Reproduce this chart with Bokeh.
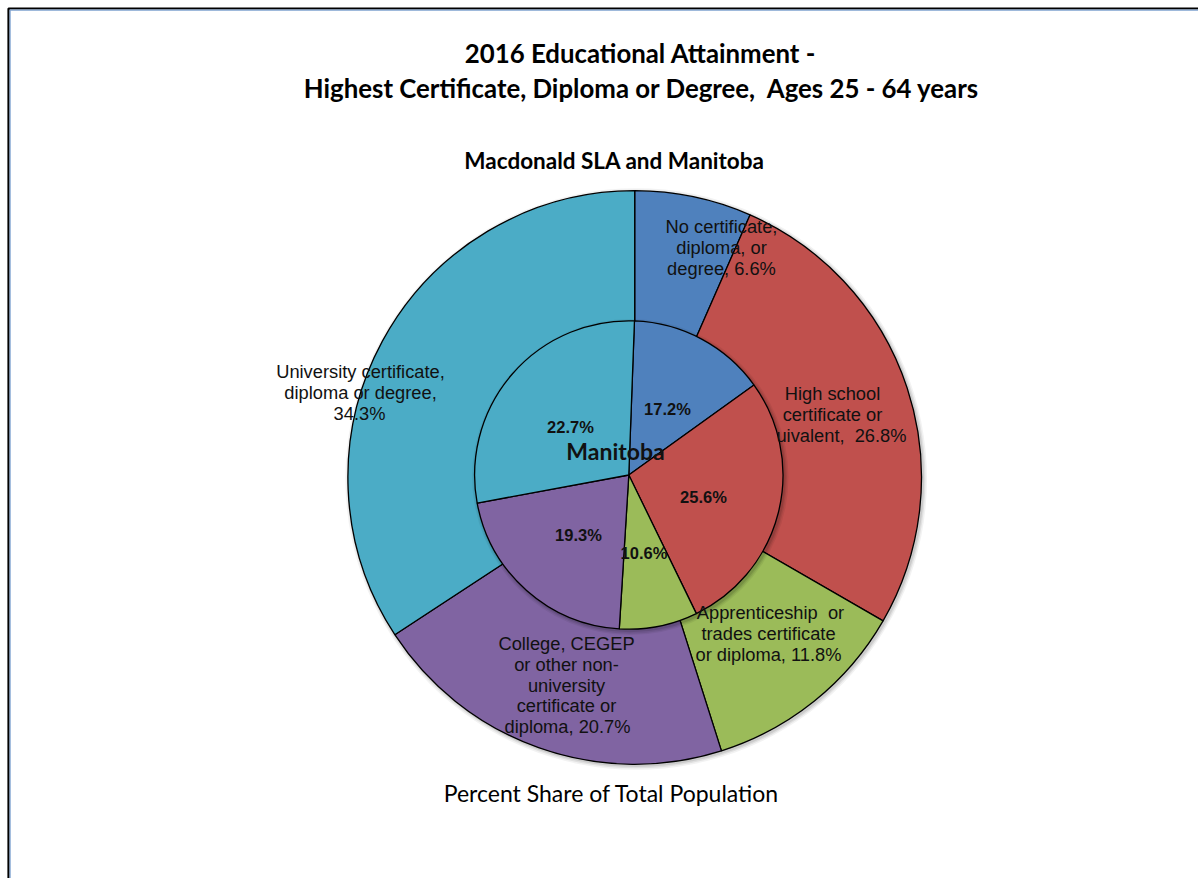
import math
from bokeh.plotting import figure
from bokeh.models import Range1d, ColumnDataSource
from bokeh.core.properties import value
from bokeh.embed import file_html
from bokeh.resources import INLINE

# ---------------- data ----------------
categories = [
    "No certificate, diploma, or degree",
    "High school certificate or equivalent",
    "Apprenticeship or trades certificate or diploma",
    "College, CEGEP or other non-university certificate or diploma",
    "University certificate, diploma or degree",
]
macdonald_pct = [6.6, 26.8, 11.8, 20.7, 34.3]          # outer ring (Macdonald SLA)
manitoba_pct = [17.2, 25.6, 10.6, 19.3, 22.7]          # inner pie labels (Manitoba)
manitoba_slice_share = [14.5, 27.7, 8.2, 21.1, 28.5]   # inner slice sizes as drawn
manitoba_start_deg = 2.1
colors = ["#4F81BD", "#C0504D", "#9BBB59", "#8064A2", "#4BACC6"]

NB = "\u00a0"
outer_label_text = [
    ["No certificate,", "diploma, or", "degree, {}%"],
    ["High school", "certificate or", "uivalent," + NB + " {}%"],
    ["Apprenticeship" + NB + " or", "trades certificate", "or diploma, {}%"],
    ["College, CEGEP", "or other non-", "university", "certificate or", "diploma, {}%"],
    ["University certificate,", "diploma or degree,", "{}%"],
]

title_lines = ["2016 Educational Attainment -",
               "Highest Certificate, Diploma or Degree," + NB + " Ages 25 - 64 years"]
subtitle = "Macdonald SLA and Manitoba"
center_label = "Manitoba"
footer = "Percent Share of Total Population"

# ---------------- layout (pixel space, y measured from top) ----------------
W, H = 1198, 878
OCX, OCY, OR = 634.2, 477.0, 286.8
ICX, ICY, IR = 628.3, 474.5, 154.2

outer_label_x = [[721, 721, 721], [832, 832, 841], [770, 768, 768],
                 [566, 566, 566, 566, 567], [360, 360, 359]]
outer_label_y0 = [226, 393, 612, 643, 371]
line_gap = 20.8
inner_label_xy = [(667, 408), (703, 496), (643.5, 552), (578, 534), (570, 426)]


def fy(y):
    return H - y


p = figure(width=W, height=H, x_range=Range1d(0, W), y_range=Range1d(0, H),
           output_backend="svg", toolbar_location=None,
           x_axis_location=None, y_axis_location=None, min_border=0,
           background_fill_color="white", border_fill_color="white")
p.grid.visible = False
p.outline_line_color = None

# frame
p.line([8, 8, W + 5], [fy(H + 5), fy(8), fy(8)], line_color="black", line_width=2.2)
p.line([9.6, 9.6, W + 5], [fy(H + 5), fy(9.6), fy(9.6)], line_color="#7FA2D0", line_width=1.2)


def wedges(cx, cy, r, shares, start_deg):
    total = float(sum(shares))
    starts, ends = [], []
    acc = start_deg
    for s in shares:
        a0 = acc
        acc += s / total * 360.0
        starts.append(math.radians(90.0 - a0))
        ends.append(math.radians(90.0 - acc))
    return ColumnDataSource(dict(x=[cx] * len(shares), y=[fy(cy)] * len(shares),
                                 start=starts, end=ends, color=colors,
                                 cat=categories))


# soft shadows
for dr, a in [(4, 0.05), (2.5, 0.07), (1.2, 0.09)]:
    p.circle(x=OCX + 1.5, y=fy(OCY + 1.5), radius=OR + dr, fill_color="black",
             fill_alpha=a, line_alpha=0)

outer = wedges(OCX, OCY, OR, macdonald_pct, 0.0)
p.wedge(x="x", y="y", radius=OR, start_angle="start", end_angle="end",
        direction="clock", fill_color="color", line_color="black",
        line_width=1.3, source=outer)

for dr, a in [(4, 0.06), (2.5, 0.08), (1.2, 0.1)]:
    p.circle(x=ICX + 1.5, y=fy(ICY + 2), radius=IR + dr, fill_color="black",
             fill_alpha=a, line_alpha=0)

inner = wedges(ICX, ICY, IR, manitoba_slice_share, manitoba_start_deg)
p.wedge(x="x", y="y", radius=IR, start_angle="start", end_angle="end",
        direction="clock", fill_color="color", line_color="black",
        line_width=1.3, source=inner)

# outer labels
lx, ly, lt = [], [], []
for i, lines in enumerate(outer_label_text):
    for j, t in enumerate(lines):
        lx.append(outer_label_x[i][j])
        ly.append(fy(outer_label_y0[i] + j * line_gap))
        lt.append(t.format(macdonald_pct[i]))
p.text(x=lx, y=ly, text=lt, text_font=value("Liberation Sans"),
       text_font_size="18.3px", text_align="center", text_baseline="middle",
       text_color="#111111")

# inner labels
p.text(x=[xy[0] for xy in inner_label_xy], y=[fy(xy[1]) for xy in inner_label_xy],
       text=["{}%".format(v) for v in manitoba_pct],
       text_font=value("Liberation Sans"), text_font_style="bold",
       text_font_size="16.5px", text_align="center", text_baseline="middle",
       text_color="#111111")

p.text(x=[615], y=[fy(450)], text=[center_label], text_font=value("Lato"),
       text_font_style="bold", text_font_size="23px", text_align="center",
       text_baseline="middle", text_color="#111111")

# titles
p.text(x=[640, 641.5], y=[fy(52), fy(87)], text=title_lines,
       text_font=value("Lato"), text_font_style="bold", text_font_size="25.8px",
       text_align="center", text_baseline="middle", text_color="black")
p.text(x=[614], y=[fy(160)], text=[subtitle], text_font=value("Lato"),
       text_font_style="bold", text_font_size="22.5px", text_align="center",
       text_baseline="middle", text_color="black")
p.text(x=[611], y=[fy(792)], text=[footer], text_font=value("Lato"),
       text_font_size="23px", text_align="center", text_baseline="middle",
       text_color="black")

open("out.html", "w").write(file_html(p, INLINE))
